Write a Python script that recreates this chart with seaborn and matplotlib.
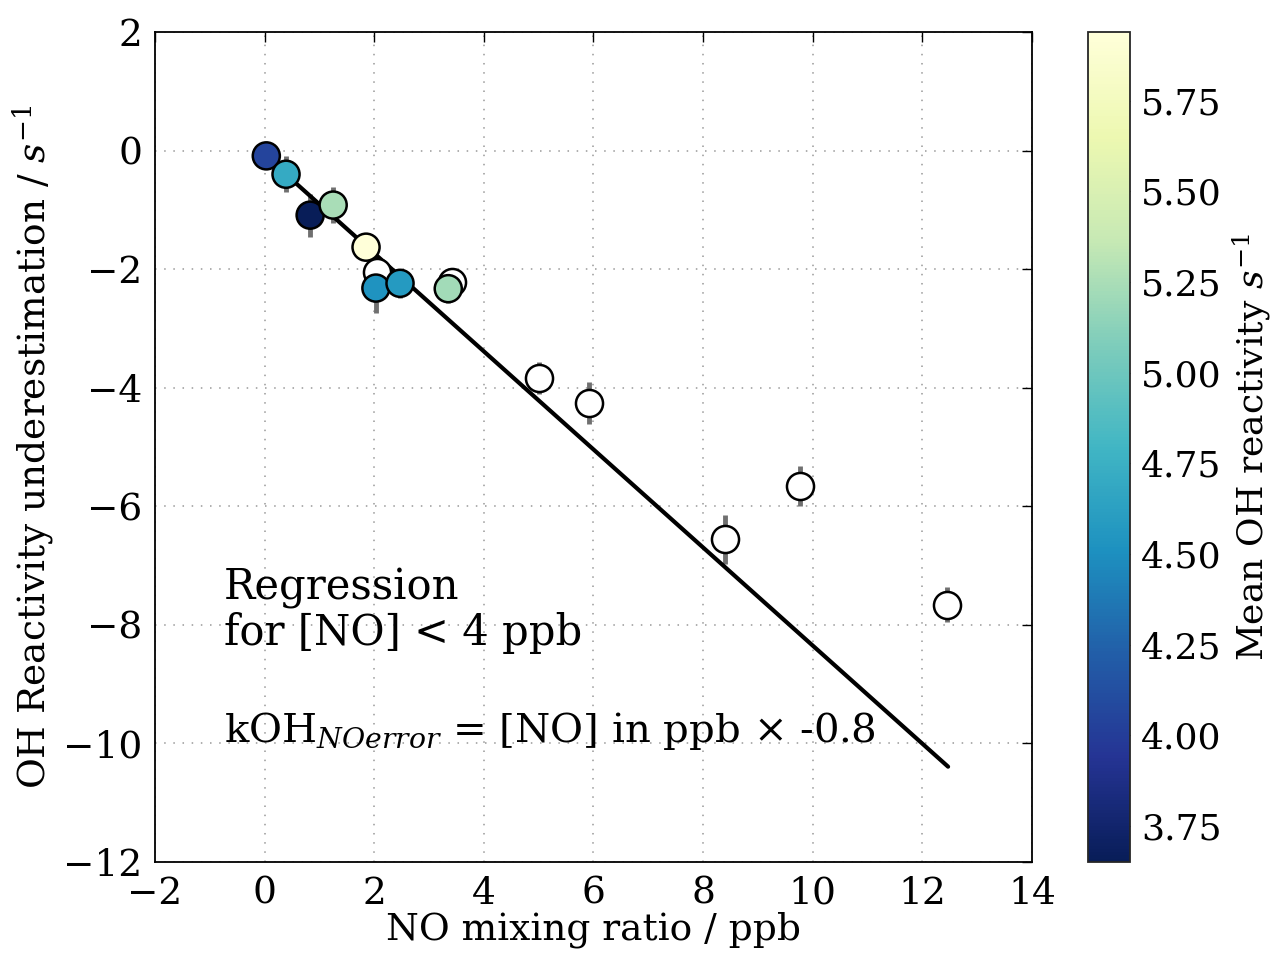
import matplotlib

matplotlib.use("Agg")
import matplotlib.pyplot as plt
import numpy as np
import pandas as pd
import seaborn as sns

# points coloured by mean OH reactivity (s^-1)
no_col = [0.03, 0.39, 0.83, 1.25, 1.85, 2.03, 2.47, 3.35]
under_col = [-0.09, -0.40, -1.09, -0.92, -1.63, -2.32, -2.24, -2.33]
err_col = [0.15, 0.30, 0.36, 0.30, 0.15, 0.42, 0.25, 0.25]
mean_koh = [4.05, 4.70, 3.65, 5.25, 5.94, 4.52, 4.58, 5.22]

# points without reactivity data (drawn white)
no_nan = [2.05, 3.42, 5.00, 5.92, 8.40, 9.77, 12.45]
under_nan = [-2.05, -2.22, -3.84, -4.26, -6.56, -5.66, -7.66]
err_nan = [0.15, 0.20, 0.27, 0.36, 0.42, 0.34, 0.30]

# regression fitted for [NO] < 4 ppb
fit_slope = -0.827
fit_intercept = -0.08
fit_range = [0.39, 12.47]

sns.set_style("white")
plt.rcParams["font.family"] = ["DejaVu Serif"]
plt.rcParams["mathtext.fontset"] = "dejavuserif"
plt.rcParams["text.color"] = "black"
plt.rcParams["axes.labelcolor"] = "black"
plt.rcParams["xtick.color"] = "black"
plt.rcParams["ytick.color"] = "black"

df_col = pd.DataFrame({"no": no_col, "under": under_col, "err": err_col, "koh": mean_koh})
df_nan = pd.DataFrame({"no": no_nan, "under": under_nan, "err": err_nan})

vmin, vmax = min(mean_koh), max(mean_koh)
cmap = plt.get_cmap("YlGnBu_r")
norm = matplotlib.colors.Normalize(vmin=vmin, vmax=vmax)

fig = plt.figure(figsize=(12.74, 9.57), dpi=100)
ax = fig.add_axes([0.1217, 0.0993, 0.6883, 0.8673])
cax = fig.add_axes([0.854, 0.0993, 0.033, 0.8673])

ax.grid(True, color="#999999", linestyle=(0, (1, 5)), linewidth=1.1)
ax.set_axisbelow(True)

for d in (df_nan, df_col):
    ax.errorbar(d["no"], d["under"], yerr=d["err"], fmt="none",
                ecolor="#707070", elinewidth=3.5, capsize=0, zorder=2)

xs = np.array(fit_range)
ax.plot(xs, fit_slope * xs + fit_intercept, color="black", linewidth=3, zorder=3)

sns.scatterplot(data=df_nan, x="no", y="under", color="white", edgecolor="black",
                linewidth=1.8, s=380, ax=ax, zorder=4, legend=False)
sns.scatterplot(data=df_col, x="no", y="under", hue="koh", palette=cmap, hue_norm=norm,
                edgecolor="black", linewidth=1.8, s=380, ax=ax, zorder=5, legend=False)

ax.set_xlim(-2, 14)
ax.set_ylim(-12, 2)
ax.set_xticks(np.arange(-2, 15, 2))
ax.set_yticks(np.arange(-12, 3, 2))
ax.tick_params(direction="in", length=7, width=1, top=True, right=True, labelsize=27)
ax.tick_params(axis="x", pad=10)
ax.tick_params(axis="y", pad=9)
for sp in ax.spines.values():
    sp.set_color("black")
    sp.set_linewidth(1.3)
ax.set_xlabel("NO mixing ratio / ppb", fontsize=27, labelpad=0)
ax.set_ylabel("OH Reactivity underestimation / $s^{-1}$", fontsize=27, labelpad=5)

ax.text(-0.74, -8.34, "Regression\nfor [NO] < 4 ppb", fontsize=30,
        va="baseline", ha="left", linespacing=1.1)
ax.text(-0.74, -9.97, r"kOH$_{NOerror}$ = [NO] in ppb $\times$ -0.8", fontsize=29,
        va="baseline", ha="left")

sm = matplotlib.cm.ScalarMappable(norm=norm, cmap=cmap)
cb = fig.colorbar(sm, cax=cax)
cb.set_ticks(np.arange(3.75, 5.8, 0.25))
cb.ax.tick_params(direction="in", length=7, labelsize=26, pad=8, color="black")
cb.outline.set_linewidth(1.3)
cb.set_label("Mean OH reactivity $s^{-1}$", fontsize=26, labelpad=6)

fig.savefig("out.png", dpi=100)
